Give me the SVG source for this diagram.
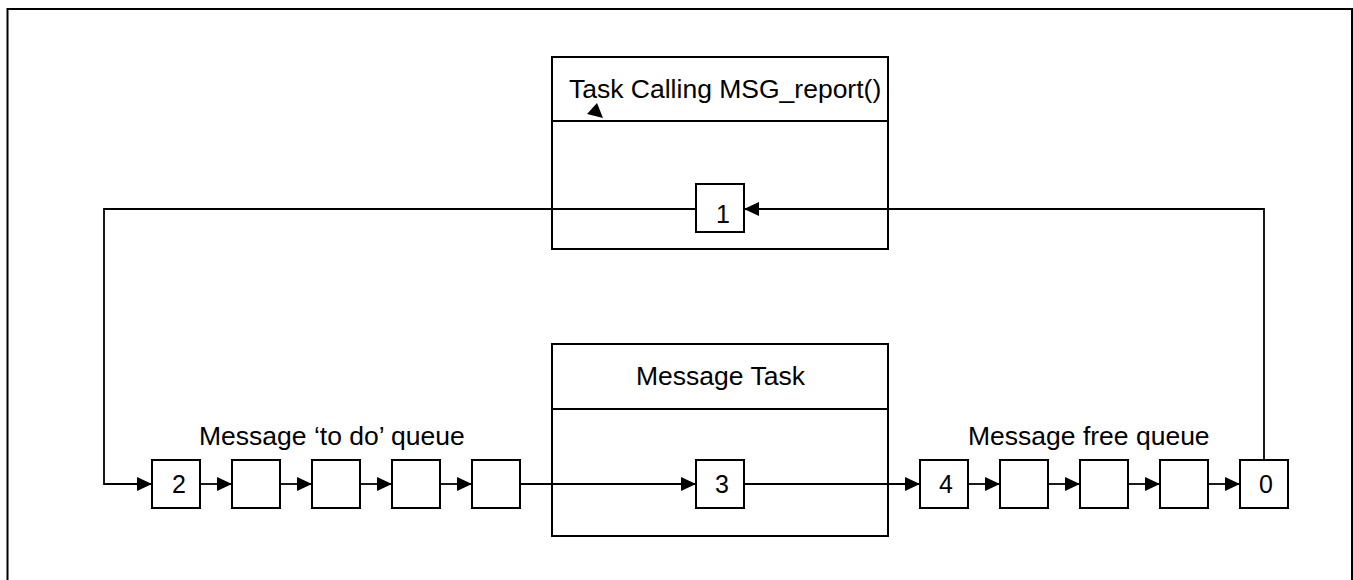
<svg xmlns="http://www.w3.org/2000/svg" width="1353" height="580" viewBox="0 0 1353 580">
<style>
.box{fill:#fff;stroke:#000;stroke-width:2}
.ln{fill:none;stroke:#000;stroke-width:1.8}
.lbl{font-family:"Liberation Sans",Arial,sans-serif;font-size:26.5px;fill:#000}
.dig{font-family:"Liberation Sans",Arial,sans-serif;font-size:25px;fill:#000;text-anchor:middle}
</style>
<defs>
<marker id="ah" viewBox="0 0 15 14" refX="15" refY="7" markerWidth="15" markerHeight="14" markerUnits="userSpaceOnUse" orient="auto">
<path d="M0,0 L15,7 L0,14 z" fill="#000"/>
</marker>
</defs>
<rect x="0" y="0" width="1353" height="580" fill="#fff"/>
<rect x="7.5" y="9" width="1344.5" height="620" fill="none" stroke="#000" stroke-width="2"/>

<g id="task-calling">
<rect class="box" x="552" y="57" width="336" height="192"/>
<line class="ln" x1="552" y1="121" x2="888" y2="121"/>
<text class="lbl" x="569" y="98">Task Calling MSG_report()</text>
<polygon points="587,114 597,103 603,118" fill="#000"/>
</g>

<g id="message-task">
<rect class="box" x="552" y="344" width="336" height="192"/>
<line class="ln" x1="552" y1="409" x2="888" y2="409"/>
<text class="lbl" x="720.5" y="385" text-anchor="middle">Message Task</text>
</g>

<g id="label-todo"><text class="lbl" x="199" y="445">Message ‘to do’ queue</text></g>
<g id="label-free"><text class="lbl" x="968" y="445">Message free queue</text></g>

<g id="connectors">
<path class="ln" d="M1264,460 V209 H744" marker-end="url(#ah)"/>
<path class="ln" d="M696,209 H104 V484 H152" marker-end="url(#ah)"/>
<path class="ln" d="M200,484 H232" marker-end="url(#ah)"/>
<path class="ln" d="M280,484 H312" marker-end="url(#ah)"/>
<path class="ln" d="M360,484 H392" marker-end="url(#ah)"/>
<path class="ln" d="M440,484 H472" marker-end="url(#ah)"/>
<path class="ln" d="M520,484 H696" marker-end="url(#ah)"/>
<path class="ln" d="M744,484 H920" marker-end="url(#ah)"/>
<path class="ln" d="M968,484 H1000" marker-end="url(#ah)"/>
<path class="ln" d="M1048,484 H1080" marker-end="url(#ah)"/>
<path class="ln" d="M1128,484 H1160" marker-end="url(#ah)"/>
<path class="ln" d="M1208,484 H1240" marker-end="url(#ah)"/>
</g>

<g id="msg1"><rect class="box" x="696" y="184" width="48" height="48"/><text class="dig" x="723" y="223">1</text></g>
<g id="msg3"><rect class="box" x="696" y="460" width="48" height="48"/><text class="dig" x="722" y="493">3</text></g>

<g id="todo2"><rect class="box" x="152" y="460" width="48" height="48"/><text class="dig" x="179" y="493">2</text></g>
<g id="todo-b"><rect class="box" x="232" y="460" width="48" height="48"/></g>
<g id="todo-c"><rect class="box" x="312" y="460" width="48" height="48"/></g>
<g id="todo-d"><rect class="box" x="392" y="460" width="48" height="48"/></g>
<g id="todo-e"><rect class="box" x="472" y="460" width="48" height="48"/></g>

<g id="free4"><rect class="box" x="920" y="460" width="48" height="48"/><text class="dig" x="946" y="493">4</text></g>
<g id="free-b"><rect class="box" x="1000" y="460" width="48" height="48"/></g>
<g id="free-c"><rect class="box" x="1080" y="460" width="48" height="48"/></g>
<g id="free-d"><rect class="box" x="1160" y="460" width="48" height="48"/></g>
<g id="free0"><rect class="box" x="1240" y="460" width="48" height="48"/><text class="dig" x="1266" y="493">0</text></g>
</svg>
